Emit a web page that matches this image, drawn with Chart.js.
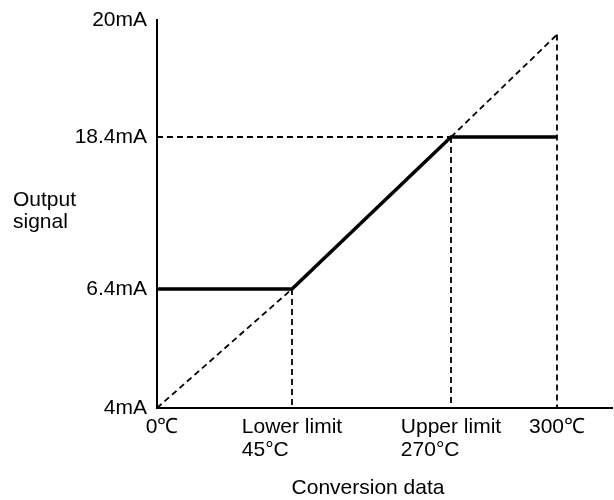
<!DOCTYPE html>
<html>
<head>
<meta charset="utf-8">
<script src="https://cdn.jsdelivr.net/npm/chart.js@4"></script>
<style>
    html, body { margin: 0; padding: 0; background: #fff; }
    #wrap { width: 614px; height: 500px; }
</style>
</head>
<body>
<div id="wrap"><canvas id="myChart" width="614" height="500"></canvas></div>
<script>
// conversion data (deg C) and their labels under the axis
const tempValues = [0, 45, 270, 300];
const tempLabels = [["0℃"], ["Lower limit", "45°C"], ["Upper limit", "270°C"], ["300℃"]];

// output signal (mA) and its tick labels
const currentValues = [4, 6.4, 18.4, 20];
const currentLabels = ["4mA", "6.4mA", "18.4mA", "20mA"];

// output actually sent, clamped between the limits
const outputMA = [6.4, 6.4, 18.4, 18.4];
// full-range conversion line, 0 -> 300 deg C
const idealMA = [4, 6.4, 18.4, 19.8];

// the drawing is not to scale, so both axes are split into segments
class BrokenScale extends Chart.LinearScale {
    static id = "broken";

    getPixelForValue(value) {
        if (value === null || value === undefined) return NaN;
        const b = this.options.breaks;
        let frac = 0;
        for (let i = 1; i < b.length; i++) {
            if (value <= b[i].value || i === b.length - 1) {
                const t = (value - b[i - 1].value) / (b[i].value - b[i - 1].value);
                frac = b[i - 1].at + t * (b[i].at - b[i - 1].at);
                break;
            }
        }
        return this.getPixelForDecimal(frac);
    }

    getValueForPixel(pixel) {
        const b = this.options.breaks;
        const frac = this.getDecimalForPixel(pixel);
        for (let i = 1; i < b.length; i++) {
            if (frac <= b[i].at || i === b.length - 1) {
                const t = (frac - b[i - 1].at) / (b[i].at - b[i - 1].at);
                return b[i - 1].value + t * (b[i].value - b[i - 1].value);
            }
        }
        return b[0].value;
    }
}
Chart.register(BrokenScale);

function pts(xs, ys) {
    return xs.map((x, i) => ({ x: x, y: ys[i] }));
}

const dash = [6, 4];
const guide = {
    borderColor: "#000",
    borderWidth: 1.8,
    borderDash: dash,
    pointRadius: 0,
    fill: false,
};

const datasets = [
    {
        label: "Output",
        data: pts(tempValues, outputMA),
        borderColor: "#000",
        borderWidth: 3.5,
        pointRadius: 0,
        fill: false,
    },
    Object.assign({ label: "Ideal", data: pts(tempValues, idealMA) }, guide),
    // dashed guides back to the axes
    Object.assign({ label: "g1", data: pts([0, tempValues[2]], [outputMA[2], outputMA[2]]) }, guide),
    Object.assign({ label: "g2", data: pts([tempValues[1], tempValues[1]], [outputMA[1], currentValues[0]]) }, guide),
    Object.assign({ label: "g3", data: pts([tempValues[2], tempValues[2]], [outputMA[2], currentValues[0]]) }, guide),
    Object.assign({ label: "g4", data: pts([tempValues[3], tempValues[3]], [idealMA[3], currentValues[0]]) }, guide),
];

const FONT = "'Liberation Sans', Arial, Helvetica, sans-serif";

const textPlugin = {
    id: "texts",
    afterDraw(chart) {
        const ctx = chart.ctx;
        const xs = chart.scales.x;
        const bottom = chart.chartArea.bottom;
        ctx.save();
        ctx.fillStyle = "#000";
        ctx.textBaseline = "middle";
        ctx.font = "21px " + FONT;

        // x labels: block centred on the tick, lines left aligned
        tempLabels.forEach((lines, i) => {
            const px = xs.getPixelForValue(tempValues[i]) + (i === 0 ? 5 : 0);
            let w = 0;
            for (const l of lines) w = Math.max(w, ctx.measureText(l).width);
            ctx.textAlign = "left";
            lines.forEach((l, j) => {
                ctx.fillText(l, px - w / 2, bottom + 19 + j * 23);
            });
        });

        ctx.textAlign = "left";
        ctx.fillText("Output", 13, 200);
        ctx.fillText("signal", 13, 222);

        ctx.textAlign = "center";
        ctx.fillText("Conversion data", 368, 488);
        ctx.restore();
    },
};

var ctx = document.getElementById("myChart").getContext("2d");
new Chart(ctx, {
    type: "line",
    data: { datasets: datasets },
    options: {
        responsive: false,
        animation: false,
        events: [],
        layout: {
            autoPadding: false,
            padding: { top: 20, right: 2, left: 0, bottom: 0 },
        },
        plugins: {
            legend: { display: false },
            tooltip: { enabled: false },
        },
        scales: {
            x: {
                type: "broken",
                min: 0,
                max: 315,
                breaks: [
                    { value: 0, at: 0 },
                    { value: 45, at: 0.2967 },
                    { value: 270, at: 0.6462 },
                    { value: 300, at: 0.8791 },
                    { value: 315, at: 1 },
                ],
                grid: { display: false },
                border: { display: true, color: "#000", width: 2 },
                ticks: { display: false },
                afterBuildTicks: (scale) => {
                    scale.ticks = tempValues.map((v) => ({ value: v }));
                },
                afterFit: (scale) => {
                    scale.height = 92;
                },
            },
            y: {
                type: "broken",
                min: 4,
                max: 20,
                breaks: [
                    { value: 4, at: 0 },
                    { value: 6.4, at: 0.3067 },
                    { value: 18.4, at: 0.6985 },
                    { value: 20, at: 1 },
                ],
                grid: { display: false },
                border: { display: true, color: "#000", width: 2 },
                afterBuildTicks: (scale) => {
                    scale.ticks = currentValues.map((v) => ({ value: v }));
                },
                afterFit: (scale) => {
                    scale.width = 157;
                },
                ticks: {
                    padding: 2,
                    color: "#000",
                    font: { family: FONT, size: 21 },
                    callback: function (value) {
                        const i = currentValues.indexOf(value);
                        return i >= 0 ? currentLabels[i] : "";
                    },
                },
            },
        },
    },
    plugins: [textPlugin],
});
</script>
</body>
</html>
